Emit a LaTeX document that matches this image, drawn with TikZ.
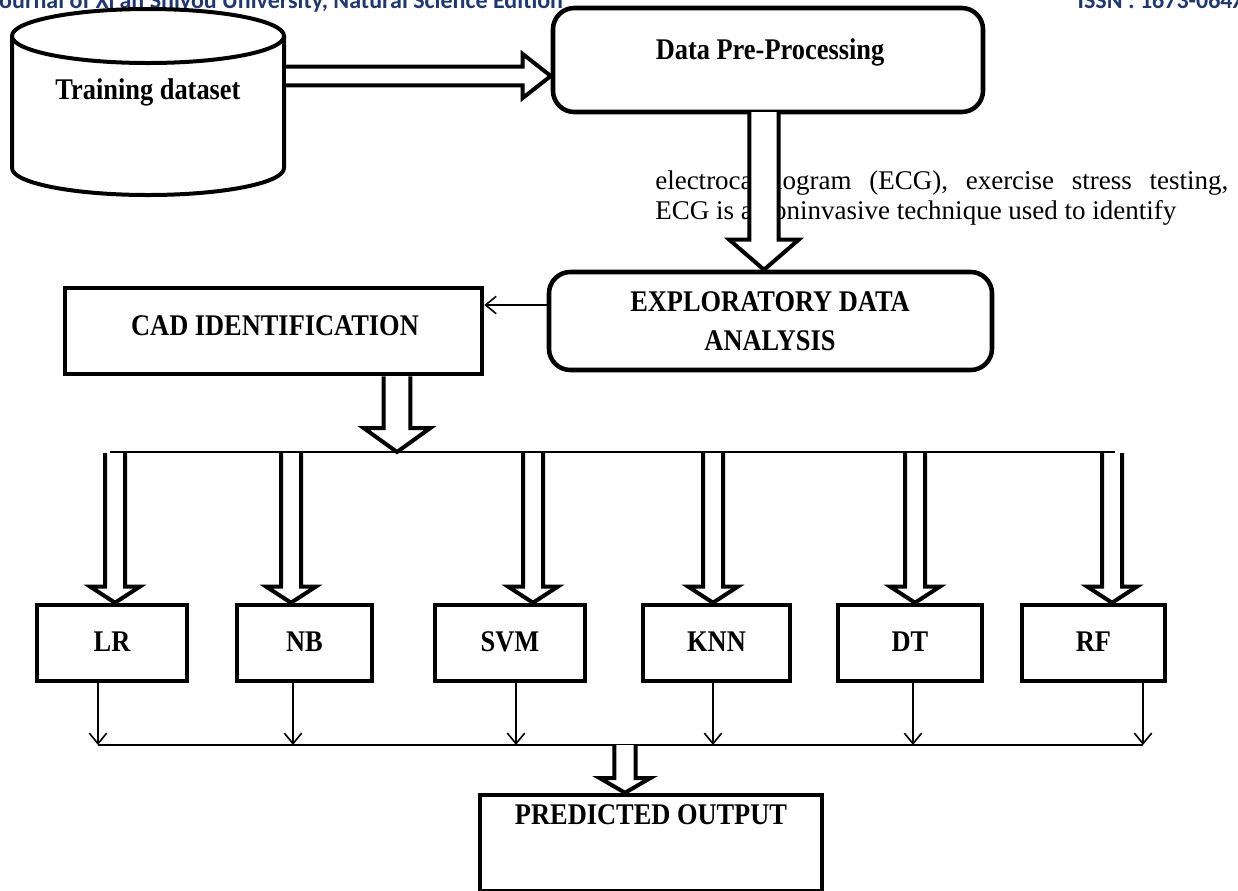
\documentclass[tikz,border=0pt]{standalone}
\usepackage{fontspec}
\setmainfont{Liberation Serif}
\newfontfamily\lblfont{Liberation Serif}[FakeStretch=0.88]
\newfontfamily\hdrfont{Carlito}
\usetikzlibrary{arrows.meta,calc}
\newlength\px
\setlength\px{0.75pt}
\definecolor{hdrblue}{RGB}{32,56,110}
\tikzset{
  box/.style={draw=black,line width=3.4pt,fill=white,inner sep=0pt},
  rbox/.style={box,rounded corners=16pt},
  lbl/.style={font=\lblfont\fontsize{30\px}{35\px}\selectfont\bfseries,align=center,inner sep=0pt},
  body/.style={anchor=base west,inner sep=0pt,font=\fontsize{27\px}{30\px}\selectfont},
  thin/.style={line width=1.2pt,-{Straight Barb[length=8pt,width=13pt,line width=1.2pt]}},
  hollow/.style={draw=black,line width=3pt,fill=white,line join=miter},
}
% vertical hollow arrow: #1 tail center, #2 tip, shaft half width #3, head half width #4, head length #5 (pt)
\newcommand{\vhollow}[5]{%
  \path let \p1=#1, \p2=#2 in
    [hollow] (\x1-#3pt,\y1) -- (\x1-#3pt,\y2+#5pt) -- (\x1-#4pt,\y2+#5pt) -- (\x2,\y2)
      -- (\x1+#4pt,\y2+#5pt) -- (\x1+#3pt,\y2+#5pt) -- (\x1+#3pt,\y1);}
\begin{document}
\begin{tikzpicture}[x=0.75pt,y=-0.75pt]
\useasboundingbox (0,0) rectangle (1238,890);
% header (cut at the top)
\begin{scope}
\clip (0,0) rectangle (1238,890);
\node[anchor=base west,inner sep=0pt,text=hdrblue,font=\hdrfont\fontsize{24\px}{28\px}\selectfont\bfseries] (hdr1) at (-9,8) {Journal of Xi'an Shiyou University, Natural Science Edition};
\node[anchor=base east,inner sep=0pt,text=hdrblue,font=\hdrfont\fontsize{24\px}{28\px}\selectfont\bfseries] (hdr2) at (1246,8) {ISSN : 1673-064X};
\end{scope}
% cylinder
\draw[line width=3pt,fill=white] (12,36) -- (12,168) arc[start angle=180,end angle=0,x radius=136,y radius=27] -- (284,36);
\draw[line width=3pt,fill=white] (148,36) ellipse[x radius=136,y radius=27];
\node[lbl] (train) at (148,92) {Training dataset};
\coordinate (cylE) at (286,76);
% data pre-processing
\node[rbox,minimum width=430*0.75pt,minimum height=104*0.75pt] (dpp) at (768,60) {};
\node[lbl] at (770,52) {Data Pre-Processing};
% horizontal hollow arrow
\path let \p1=(cylE), \p2=(dpp.west) in
  [hollow] (\x1,\y1-7pt) -- (\x2-21pt,\y1-7pt) -- (\x2-21pt,\y1-16.5pt) -- (\x2,\y1)
   -- (\x2-21pt,\y1+16.5pt) -- (\x2-21pt,\y1+7pt) -- (\x1,\y1+7pt);
% body text (partly hidden by the arrow)
\node[body] (txt1) at (655,189)
  {\hbox to 573\px{electrocardiogram\hfil\ (ECG),\hfil\ exercise\hfil\ stress\hfil\ testing,}};
\node[body] (txt2) at (655,219)
  {ECG is a noninvasive technique used to identify};
% EDA
\node[rbox,minimum width=443*0.75pt,minimum height=98*0.75pt] (eda) at (770.5,321) {};
\node[lbl] at (770,321) {EXPLORATORY DATA\\[3pt]ANALYSIS};
\vhollow{(764,112)}{(eda.north -| 764,0)}{11}{26}{22.5}
% CAD
\node[box,minimum width=417*0.75pt,minimum height=86*0.75pt] (cad) at (273.5,331) {};
\node[lbl] at (275,326) {CAD IDENTIFICATION};
\draw[thin] (eda.west |- 0,305) -- (cad.east |- 0,305);
% branch line
\coordinate (bl) at (110,452);
\coordinate (br) at (1115,452);
\draw[line width=1.5pt] (bl) -- (br);
\vhollow{(cad.south -| 397,0)}{(397,452)}{10}{25}{18}
% classifier boxes
\foreach \nm/\t/\xa/\xb in {lr/LR/37/187, nb/NB/237/372, svm/SVM/435/585, knn/KNN/643/790, dt/DT/838/982, rf/RF/1022/1165}{
  \node[box,minimum width={(\xb-\xa)*0.75pt},minimum height=76*0.75pt] (\nm) at ({(\xa+\xb)/2},643) {};
  \node[lbl] at ({(\xa+\xb)/2},642) {\t};
}
\foreach \nm/\xx in {lr/115, nb/291, svm/533, knn/713, dt/915, rf/1112}{
  \vhollow{(\xx,453)}{(\nm.north -| \xx,0)}{7.5}{18.5}{12}
}
% bottom line
\coordinate (ll) at (98,745);
\coordinate (lr2) at (1143,745);
\draw[line width=1.5pt] (ll) -- (lr2);
\foreach \nm/\xx in {lr/98, nb/293, svm/516, knn/713, dt/913, rf/1143}{
  \draw[thin] (\nm.south -| \xx,0) -- (\xx,745);
}
% predicted output
\node[box,minimum width=342*0.75pt,minimum height=96*0.75pt] (po) at (651,843) {};
\node[lbl] at (651,815) {PREDICTED OUTPUT};
\vhollow{(625,745)}{(po.north -| 625,0)}{8}{19}{11}
\end{tikzpicture}
\end{document}
